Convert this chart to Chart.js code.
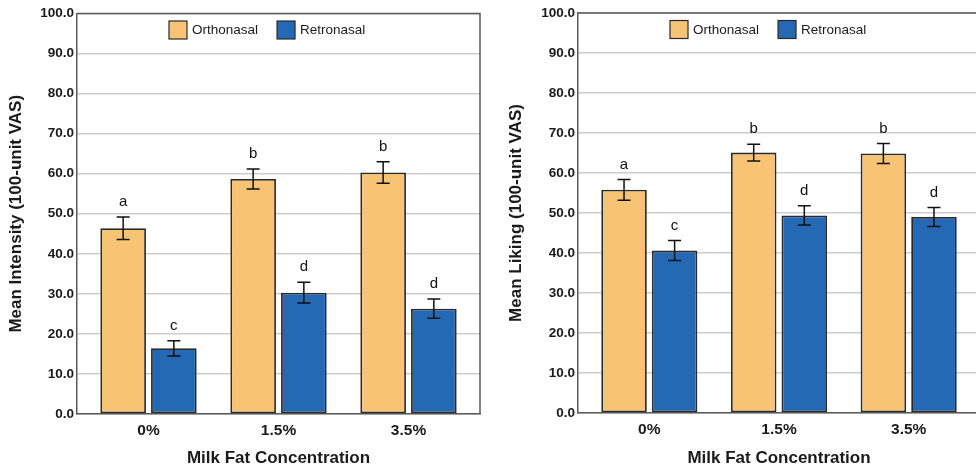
<!DOCTYPE html>
<html>
<head>
<meta charset="utf-8">
<script src="https://cdn.jsdelivr.net/npm/chart.js@4.4.0/dist/chart.umd.min.js"></script>
<style>
  html, body { margin: 0; padding: 0; background: #fff; overflow: hidden; }
  body { width: 976px; height: 467px; position: relative; }
  #left_chart { position: absolute; left: 0; top: 0; }
  #right_chart { position: absolute; left: 500px; top: 0; }
</style>
</head>
<body>
<canvas id="left_chart" width="490" height="467"></canvas>
<canvas id="right_chart" width="490" height="467"></canvas>
<script>
// data
const fat_levels = ["0%", "1.5%", "3.5%"]
const series_names = ["Orthonasal", "Retronasal"]
const y_ticks = [0, 10, 20, 30, 40, 50, 60, 70, 80, 90, 100]

const intensity_ortho = [46.4, 58.7, 60.3]
const intensity_ortho_err = [2.8, 2.5, 2.7]
const intensity_retro = [16.4, 30.3, 26.3]
const intensity_retro_err = [1.9, 2.6, 2.4]
const intensity_ortho_letters = ["a", "b", "b"]
const intensity_retro_letters = ["c", "d", "d"]

const liking_ortho = [55.8, 65.1, 64.9]
const liking_ortho_err = [2.6, 2.1, 2.5]
const liking_retro = [40.6, 49.4, 49.0]
const liking_retro_err = [2.5, 2.4, 2.4]
const liking_ortho_letters = ["a", "b", "b"]
const liking_retro_letters = ["c", "d", "d"]

const ORANGE = "#F7C375"
const BLUE = "#2568B3"
const EDGE = "#2a2a2a"
const FRAME = "#5a5a5a"
const FONT = "'Liberation Sans', Arial, Helvetica, sans-serif"

Chart.defaults.font.family = FONT
Chart.defaults.color = "#1a1a1a"

const ChartHelper = {
    ToPoints(values) {
        return values.map((v, i) => ({x: i, y: v}))
    },
    Dataset(label, values, errors, letters, color) {
        return {
            label: label,
            data: ChartHelper.ToPoints(values),
            errors: errors,
            letters: letters,
            backgroundColor: color,
            borderColor: EDGE,
            borderWidth: 1.8,
            borderSkipped: false,
            categoryPercentage: 0.78,
            barPercentage: 0.9
        }
    }
}

// error bars + significance letters
const errorBarPlugin = {
    id: "errorBars",
    afterDatasetsDraw(chart) {
        const ctx = chart.ctx
        const yScale = chart.scales.y
        chart.data.datasets.forEach((ds, di) => {
            const meta = chart.getDatasetMeta(di)
            meta.data.forEach((bar, i) => {
                const v = ds.data[i].y
                const e = ds.errors[i]
                const top = yScale.getPixelForValue(v + e)
                const bot = yScale.getPixelForValue(v - e)
                const x = bar.x
                ctx.save()
                ctx.strokeStyle = "#111"
                ctx.lineWidth = 1.5
                ctx.beginPath()
                ctx.moveTo(x, top); ctx.lineTo(x, bot)
                ctx.moveTo(x - 6.5, top); ctx.lineTo(x + 6.5, top)
                ctx.moveTo(x - 6.5, bot); ctx.lineTo(x + 6.5, bot)
                ctx.stroke()
                ctx.fillStyle = "#111"
                ctx.font = "15px " + FONT
                ctx.textAlign = "center"
                ctx.textBaseline = "middle"
                ctx.fillText(ds.letters[i], x, top - 15)
                ctx.restore()
            })
        })
    }
}

// plot frame + legend inside the plot
const framePlugin = {
    id: "frameLegend",
    afterDraw(chart) {
        const ctx = chart.ctx
        const a = chart.chartArea
        ctx.save()
        ctx.strokeStyle = FRAME
        ctx.lineWidth = 1.5
        ctx.beginPath()
        ctx.moveTo(a.left, a.top); ctx.lineTo(a.right, a.top); ctx.lineTo(a.right, a.bottom)
        ctx.stroke()

        let lx = a.left + 92
        const ly = a.top + 7.5
        ctx.font = "13.5px " + FONT
        ctx.textBaseline = "middle"
        ctx.textAlign = "left"
        chart.data.datasets.forEach(ds => {
            ctx.fillStyle = ds.backgroundColor
            ctx.fillRect(lx, ly, 18, 18)
            ctx.strokeStyle = EDGE
            ctx.lineWidth = 1.2
            ctx.strokeRect(lx, ly, 18, 18)
            ctx.fillStyle = "#1a1a1a"
            ctx.fillText(ds.label, lx + 23, ly + 9.5)
            lx += 23 + ctx.measureText(ds.label).width + 19
        })
        ctx.restore()
    }
}

function BuildChart(canvas_id, y_title, ortho, ortho_err, ortho_letters, retro, retro_err, retro_letters, axis_width, x_height, top_pad) {
    const ctx = document.getElementById(canvas_id).getContext("2d")
    return new Chart(ctx, {
        type: "bar",
        data: {
            datasets: [
                ChartHelper.Dataset(series_names[0], ortho, ortho_err, ortho_letters, ORANGE),
                ChartHelper.Dataset(series_names[1], retro, retro_err, retro_letters, BLUE)
            ]
        },
        options: {
            responsive: false,
            animation: false,
            devicePixelRatio: 1,
            layout: {padding: {top: top_pad, right: 10, bottom: 0, left: 0}},
            plugins: {legend: {display: false}, tooltip: {enabled: false}},
            scales: {
                x: {
                    type: "linear",
                    offset: false,
                    min: -0.55,
                    max: fat_levels.length - 0.45,
                    afterBuildTicks(axis) {
                        axis.ticks = fat_levels.map((c, i) => ({value: i}))
                    },
                    afterFit(axis) { axis.height = x_height },
                    grid: {display: false, drawTicks: false},
                    border: {display: true, color: FRAME, width: 1.5},
                    ticks: {
                        padding: 7,
                        font: {size: 15.5, weight: "bold"},
                        color: "#1a1a1a",
                        callback: (v, i) => fat_levels[i]
                    },
                    title: {
                        display: true,
                        text: "Milk Fat Concentration",
                        font: {size: 17, weight: "bold", lineHeight: 1},
                        color: "#1a1a1a",
                        padding: 0
                    }
                },
                y: {
                    min: 0,
                    max: 100,
                    afterBuildTicks(axis) {
                        axis.ticks = y_ticks.map(v => ({value: v}))
                    },
                    afterFit(axis) { axis.width = axis_width },
                    grid: {color: "#cdcdcd", lineWidth: 1.5, drawTicks: false},
                    border: {display: true, color: FRAME, width: 1.5},
                    ticks: {
                        padding: 3,
                        font: {size: 13.5, weight: "bold"},
                        color: "#1a1a1a",
                        callback: v => v.toFixed(1)
                    },
                    title: {
                        display: true,
                        text: y_title,
                        font: {size: 17, weight: "bold", lineHeight: 1.2},
                        color: "#1a1a1a",
                        padding: {top: 6, bottom: 0}
                    }
                }
            }
        },
        plugins: [errorBarPlugin, framePlugin]
    })
}

BuildChart("left_chart", "Mean Intensity (100-unit VAS)",
    intensity_ortho, intensity_ortho_err, intensity_ortho_letters,
    intensity_retro, intensity_retro_err, intensity_retro_letters,
    77, 53, 13.5)

BuildChart("right_chart", "Mean Liking (100-unit VAS)",
    liking_ortho, liking_ortho_err, liking_ortho_letters,
    liking_retro, liking_retro_err, liking_retro_letters,
    78, 54, 13)
</script>
</body>
</html>
